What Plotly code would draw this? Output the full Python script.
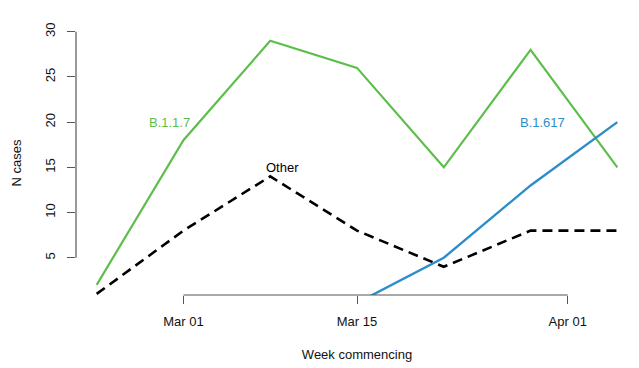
import plotly.graph_objects as go

weeks = ["2021-02-22", "2021-03-01", "2021-03-08", "2021-03-15",
         "2021-03-22", "2021-03-29", "2021-04-05"]
b117 = [2, 18, 29, 26, 15, 28, 15]
other = [1, 8, 14, 8, 4, 8, 8]
b1617 = [None, None, None, 0, 5, 13, 20]

x_tick_vals = ["2021-03-01", "2021-03-15", "2021-04-01"]
x_tick_text = ["Mar 01", "Mar 15", "Apr 01"]
y_tick_vals = [5, 10, 15, 20, 25, 30]

label_text = ["B.1.1.7", "Other", "B.1.617"]
label_x = ["2021-02-27 21:00", "2021-03-09 00:00", "2021-03-30 00:00"]
label_y = [20, 15, 20]

GREEN = "#5DBE4C"
BLUE = "#2D8DCB"
BLACK = "#000000"
AXIS = "#555555"
FONT = "Liberation Sans, Arial, sans-serif"

fig = go.Figure()
fig.add_trace(go.Scatter(x=weeks, y=b117, mode="lines", hoverinfo="skip",
                         line=dict(color=GREEN, width=2.2)))
fig.add_trace(go.Scatter(x=weeks, y=other, mode="lines", hoverinfo="skip",
                         line=dict(color=BLACK, width=2.6, dash="10px,6px")))
fig.add_trace(go.Scatter(x=weeks, y=b1617, mode="lines", hoverinfo="skip",
                         line=dict(color=BLUE, width=2.4)))

label_colors = [GREEN, BLACK, BLUE]
for t, x, y, c in zip(label_text, label_x, label_y, label_colors):
    fig.add_annotation(x=x, y=y, text=t, showarrow=False,
                       font=dict(color=c, size=13, family=FONT),
                       xanchor="center", yanchor="middle")

# R-style axis lines spanning first to last tick
fig.add_shape(type="line", xref="x", yref="paper",
              x0=x_tick_vals[0], x1=x_tick_vals[-1], y0=0, y1=0,
              line=dict(color=AXIS, width=1.2))
fig.add_shape(type="line", xref="paper", yref="y",
              x0=0, x1=0, y0=y_tick_vals[0], y1=y_tick_vals[-1],
              line=dict(color=AXIS, width=1.2))

fig.update_layout(
    width=639, height=368,
    margin=dict(l=76, r=1, t=31, b=73, autoexpand=False),
    paper_bgcolor="white", plot_bgcolor="white",
    showlegend=False,
    font=dict(family=FONT, size=13, color="#111111"),
    xaxis=dict(range=["2021-02-20 08:00", "2021-04-06 16:00"],
               tickvals=x_tick_vals, ticktext=x_tick_text,
               showgrid=False, zeroline=False, showline=False,
               automargin=False,
               ticks="outside", ticklen=8, tickcolor=AXIS, tickwidth=1.2,
               ticklabelstandoff=6,
               tickfont=dict(size=13),
               title=dict(text="Week commencing", standoff=22,
                          font=dict(size=13))),
    yaxis=dict(range=[0.88, 30.08],
               tickvals=y_tick_vals,
               showgrid=False, zeroline=False, showline=False,
               automargin=False,
               ticks="outside", ticklen=8, tickcolor=AXIS, tickwidth=1.2,
               ticklabelstandoff=7,
               tickangle=-90, tickfont=dict(size=13),
               title=dict(text="N cases", standoff=18,
                          font=dict(size=13))),
)

fig.write_html("out.html",
               config={"displayModeBar": False},
               post_script="document.body.style.margin='0';")
